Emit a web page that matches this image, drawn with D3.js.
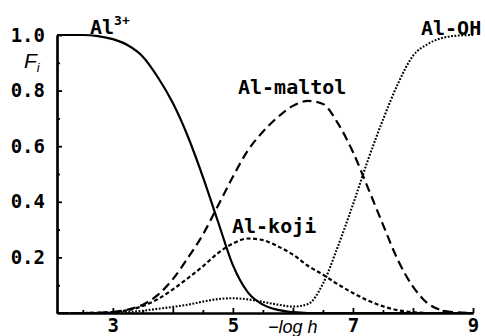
<!DOCTYPE html>
<html>
<head>
<meta charset="utf-8">
<script src="https://cdn.jsdelivr.net/npm/d3@7/dist/d3.min.js"></script>
<style>
  html, body { margin: 0; padding: 0; background: #fff; }
  svg { display: block; }
  .mono { font-family: "DejaVu Sans Mono", monospace; font-weight: bold; }
  .ital { font-family: "Liberation Sans", Arial, sans-serif; font-style: italic; }
</style>
</head>
<body>
<svg id="chart" width="485" height="336"></svg>
<script>
// -log h grid shared by all species
const pH = [2.07, 2.5, 2.75, 3.0, 3.25, 3.5, 3.75, 4.0, 4.25, 4.5, 4.75, 5.0, 5.25, 5.5,
            5.75, 6.0, 6.25, 6.5, 6.75, 7.0, 7.25, 7.5, 7.75, 8.0, 8.25, 8.5, 8.75, 9.0];

// mole fractions F_i of each aluminium species
const al3 = [1.000, 1.000, 0.996, 0.985, 0.963, 0.922, 0.848, 0.755, 0.635, 0.490, 0.330, 0.172, 0.074, 0.030,
             0.011, 0.003, 0.000, 0.000, 0.000, 0.000, 0.000, 0.000, 0.000, 0.000, 0.000, 0.000, 0.000, 0.000];
const alMaltol = [0.000, 0.000, 0.001, 0.004, 0.012, 0.030, 0.065, 0.122, 0.198, 0.282, 0.385, 0.490, 0.585, 0.652,
                  0.705, 0.745, 0.763, 0.752, 0.682, 0.579, 0.450, 0.318, 0.190, 0.095, 0.034, 0.009, 0.002, 0.000];
const alKoji = [0.000, 0.000, 0.001, 0.003, 0.010, 0.025, 0.050, 0.085, 0.125, 0.168, 0.215, 0.250, 0.268, 0.262,
                0.240, 0.210, 0.170, 0.138, 0.103, 0.072, 0.045, 0.024, 0.010, 0.003, 0.000, 0.000, 0.000, 0.000];
const alOH = [0.000, 0.000, 0.000, 0.001, 0.003, 0.008, 0.015, 0.022, 0.030, 0.041, 0.050, 0.053, 0.049, 0.040,
              0.030, 0.023, 0.032, 0.105, 0.240, 0.390, 0.550, 0.695, 0.825, 0.925, 0.968, 0.990, 0.998, 1.000];

// axis ticks and labels
const xLabelTicks = [3, 5, 7, 9];
const xIntTicks = [3, 4, 5, 6, 7, 8, 9];
const xHalfTicks = [2.5, 3.5, 4.5, 5.5, 6.5, 7.5, 8.5];
const yMajorTicks = [0.2, 0.4, 0.6, 0.8, 1.0];
const yMinorTicks = [0.1, 0.3, 0.5, 0.7, 0.9];

const svg = d3.select("#chart");
const x = d3.scaleLinear().domain([2.07, 9]).range([57, 473]);
const y = d3.scaleLinear().domain([0, 1]).range([313, 35]);

const axisStyle = g => {
  g.select(".domain").attr("stroke", "#000").attr("stroke-width", 2.2);
  g.selectAll(".tick line").attr("stroke", "#000").attr("stroke-width", 1.8);
  g.selectAll(".tick text").attr("class", "mono").attr("fill", "#000").attr("font-size", 19);
};

// x axis: minor half-unit ticks, integer ticks, labels on odd values
svg.append("g").attr("transform", "translate(0,313)")
  .call(d3.axisBottom(x).tickValues(xHalfTicks).tickSize(-3).tickSizeOuter(0).tickFormat(""))
  .call(axisStyle);
svg.append("g").attr("transform", "translate(0,313)")
  .call(d3.axisBottom(x).tickValues(xIntTicks).tickSize(-5).tickSizeOuter(0)
    .tickFormat(d => xLabelTicks.includes(d) ? d : ""))
  .call(axisStyle)
  .call(g => g.selectAll(".tick text").attr("y", 6).attr("dy", "0.71em"));

// y axis
svg.append("g").attr("transform", "translate(57,0)")
  .call(d3.axisLeft(y).tickValues(yMinorTicks).tickSize(-3).tickSizeOuter(0).tickFormat(""))
  .call(axisStyle);
svg.append("g").attr("transform", "translate(57,0)")
  .call(d3.axisLeft(y).tickValues(yMajorTicks).tickSize(-5).tickSizeOuter(0).tickFormat(d3.format(".1f")))
  .call(axisStyle)
  .call(g => g.selectAll(".tick text").attr("x", -12).attr("text-anchor", "end"));

// species curves
const series = [
  { values: al3, dash: null, width: 2.2 },
  { values: alMaltol, dash: "9,5", width: 2.2 },
  { values: alKoji, dash: "4,2.6", width: 2.2 },
  { values: alOH, dash: "1.8,1.6", width: 2.1 }
];
const line = d3.line().x(d => x(d[0])).y(d => y(d[1])).curve(d3.curveMonotoneX);
series.forEach(s => {
  svg.append("path")
    .datum(pH.map((p, i) => [p, s.values[i]]))
    .attr("d", line)
    .attr("fill", "none")
    .attr("stroke", "#000")
    .attr("stroke-width", s.width)
    .attr("stroke-dasharray", s.dash);
});

// species labels
const lab = (tx, ty, text) => svg.append("text").attr("class", "mono")
  .attr("x", tx).attr("y", ty).attr("font-size", 20).attr("fill", "#000").text(text);
const a3 = lab(90, 34, "Al");
a3.append("tspan").attr("font-size", 13).attr("dy", -9).text("3+");
lab(238, 94, "Al-maltol");
lab(232, 233, "Al-koji");
lab(421, 35, "Al-OH");

// axis titles
const fi = svg.append("text").attr("class", "ital").attr("x", 24).attr("y", 68)
  .attr("font-size", 21).attr("fill", "#000").text("F");
fi.append("tspan").attr("font-size", 13).attr("dy", 4).text("i");
svg.append("text").attr("class", "ital").attr("x", 268).attr("y", 333)
  .attr("font-size", 18).attr("fill", "#000").text("\u2212log h");
</script>
</body>
</html>
